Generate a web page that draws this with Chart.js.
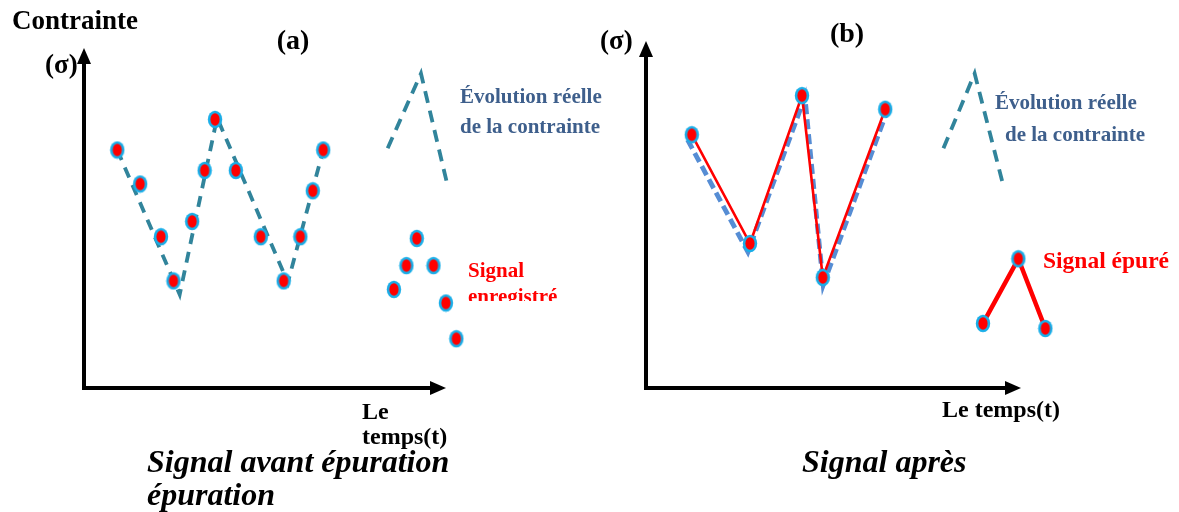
<!DOCTYPE html>
<html>
<head>
<meta charset="utf-8">
<script src="https://cdn.jsdelivr.net/npm/chart.js@4.4.1/dist/chart.umd.min.js"></script>
<style>
    html, body { margin: 0; padding: 0; background: #fff; width: 1179px; height: 512px; overflow: hidden; }
    canvas { position: absolute; top: 0; }
    #chartA { left: 0; z-index: 2; }
    #chartB { left: 590px; z-index: 1; }
</style>
</head>
<body>
<canvas id="chartA" width="640" height="512"></canvas>
<canvas id="chartB" width="589" height="512"></canvas>
<script>
// Panel (a) - recorded signal, before cleaning
const timeA = [8, 13.5, 18.5, 21.5, 26, 29, 31.5, 36.5, 42.5, 48, 52, 55, 57.5];
const stressA = [70, 60, 44.5, 31.5, 49, 64, 79, 64, 44.5, 31.5, 44.5, 58, 70];
const realTimeA = [8, 23, 32, 49, 57.5];
const realStressA = [70, 27.5, 79.5, 31, 70];
// legend samples of panel (a)
const keyLineTimeA = [73, 81, 87.5];
const keyLineStressA = [70.5, 92.5, 59];
const keyDotTimeA = [80, 77.5, 84, 74.5, 87, 89.5];
const keyDotStressA = [44, 36, 36, 29, 25, 14.5];

// Panel (b) - cleaned signal (only turning points kept)
const timeB = [11, 25, 37.5, 42.5, 57.5];
const stressB = [74.5, 42.5, 86, 32.5, 82];
const realTimeB = [10, 24.5, 38.2, 42.6, 57.7];
const realStressB = [73, 40, 85.6, 30.3, 80.6];
// legend samples of panel (b)
const keyLineTimeB = [71.5, 79, 86];
const keyLineStressB = [70.5, 92.5, 59];
const keyDotTimeB = [81, 89.5, 96];
const keyDotStressB = [19, 38, 17.5];

const TEAL = '#31849b';
const BLUE_DASH = '#568dd4';
const RED = '#ff0000';
const CYAN = '#1aaee8';
const LABEL_BLUE = '#3e5f8c';
const SERIF = '"Liberation Serif", "Times New Roman", serif';

function zip(xs, ys) {
    return xs.map(function(x, i) { return { x: x, y: ys[i] }; });
}

// red oval with cyan ring, used as point style
function makeDot() {
    const c = document.createElement('canvas');
    c.width = 16;
    c.height = 19;
    const g = c.getContext('2d');
    g.fillStyle = CYAN;
    g.beginPath();
    g.ellipse(8, 9.5, 7.2, 8.8, 0, 0, Math.PI * 2);
    g.fill();
    g.fillStyle = RED;
    g.beginPath();
    g.ellipse(8, 9.5, 4.6, 6.2, 0, 0, Math.PI * 2);
    g.fill();
    return c;
}
const dot = makeDot();

function text(ctx, s, x, y, font, color, align) {
    ctx.font = font;
    ctx.fillStyle = color || '#000';
    ctx.textAlign = align || 'left';
    ctx.textBaseline = 'middle';
    ctx.fillText(s, x, y);
}

function drawAxes(chart, yTip, xTip) {
    const ctx = chart.ctx;
    const x0 = chart.scales.x.getPixelForValue(0);
    const y0 = chart.scales.y.getPixelForValue(0);
    ctx.save();
    ctx.strokeStyle = '#000';
    ctx.fillStyle = '#000';
    ctx.lineWidth = 4;
    ctx.beginPath();
    ctx.moveTo(x0, y0 + 2);
    ctx.lineTo(x0, yTip + 12);
    ctx.moveTo(x0 - 2, y0);
    ctx.lineTo(xTip - 12, y0);
    ctx.stroke();
    ctx.beginPath();
    ctx.moveTo(x0, yTip);
    ctx.lineTo(x0 - 7, yTip + 16);
    ctx.lineTo(x0 + 7, yTip + 16);
    ctx.closePath();
    ctx.fill();
    ctx.beginPath();
    ctx.moveTo(xTip, y0);
    ctx.lineTo(xTip - 16, y0 - 7);
    ctx.lineTo(xTip - 16, y0 + 7);
    ctx.closePath();
    ctx.fill();
    ctx.restore();
}

function baseOptions(padding) {
    return {
        responsive: false,
        animation: false,
        devicePixelRatio: 1,
        layout: { padding: padding },
        scales: {
            x: { type: 'linear', min: 0, max: 100, display: false },
            y: { type: 'linear', min: 0, max: 100, display: false }
        },
        plugins: {
            legend: { display: false },
            tooltip: { enabled: false }
        }
    };
}

function dashed(data, color, width, dash) {
    return {
        data: data,
        borderColor: color,
        borderWidth: width,
        borderDash: dash,
        pointRadius: 0,
        tension: 0,
        fill: false,
        order: 2
    };
}

function dots(data, lineWidth) {
    return {
        data: data,
        showLine: lineWidth > 0,
        borderColor: RED,
        borderWidth: lineWidth,
        pointStyle: dot,
        pointRadius: 8,
        tension: 0,
        fill: false,
        order: 1
    };
}

const decorA = {
    id: 'decorA',
    beforeDatasetsDraw: function(chart) {
        drawAxes(chart, 48, 446);
    },
    afterDraw: function(chart) {
        const ctx = chart.ctx;
        ctx.save();
        text(ctx, 'Contrainte', 12, 22, 'bold 27px ' + SERIF);
        text(ctx, '(σ)', 45, 66, 'bold 27px ' + SERIF);
        text(ctx, '(a)', 293, 42, 'bold 28px ' + SERIF, '#000', 'center');
        text(ctx, 'Évolution réelle', 460, 98, 'bold 21px ' + SERIF, LABEL_BLUE);
        text(ctx, 'de la contrainte', 460, 128, 'bold 21px ' + SERIF, LABEL_BLUE);
        // the second word is cut off in the original figure
        ctx.save();
        ctx.beginPath();
        ctx.rect(440, 250, 150, 51);
        ctx.clip();
        text(ctx, 'Signal', 468, 272, 'bold 21px ' + SERIF, RED);
        text(ctx, 'enregistré', 468, 298, 'bold 21px ' + SERIF, RED);
        ctx.restore();
        text(ctx, 'Le', 362, 413, 'bold 24px ' + SERIF);
        text(ctx, 'temps(t)', 362, 438, 'bold 24px ' + SERIF);
        text(ctx, 'Signal avant épuration', 147, 464, 'italic bold 32px ' + SERIF);
        text(ctx, 'épuration', 147, 497, 'italic bold 32px ' + SERIF);
        ctx.restore();
    }
};

const decorB = {
    id: 'decorB',
    beforeDatasetsDraw: function(chart) {
        drawAxes(chart, 41, 431);
    },
    afterDraw: function(chart) {
        const ctx = chart.ctx;
        const ox = -590;
        ctx.save();
        text(ctx, '(σ)', 600 + ox, 42, 'bold 27px ' + SERIF);
        text(ctx, '(b)', 847 + ox, 35, 'bold 28px ' + SERIF, '#000', 'center');
        text(ctx, 'Évolution réelle', 995 + ox, 104, 'bold 21px ' + SERIF, LABEL_BLUE);
        text(ctx, 'de la contrainte', 1005 + ox, 136, 'bold 21px ' + SERIF, LABEL_BLUE);
        text(ctx, 'Signal épuré', 1043 + ox, 262, 'bold 23.5px ' + SERIF, RED);
        text(ctx, 'Le temps(t)', 942 + ox, 411, 'bold 24px ' + SERIF);
        text(ctx, 'Signal après', 802 + ox, 464, 'italic bold 32px ' + SERIF);
        ctx.restore();
    }
};

new Chart(document.getElementById('chartA'), {
    type: 'line',
    data: {
        datasets: [
            dots(zip(timeA, stressA), 0),
            dots(zip(keyDotTimeA, keyDotStressA), 0),
            dashed(zip(realTimeA, realStressA), TEAL, 3.8, [11, 8]),
            dashed(zip(keyLineTimeA, keyLineStressA), TEAL, 3.8, [12, 8])
        ]
    },
    options: baseOptions({ left: 84, top: 48, right: 140, bottom: 124 }),
    plugins: [decorA]
});

new Chart(document.getElementById('chartB'), {
    type: 'line',
    data: {
        datasets: [
            dots(zip(timeB, stressB), 2.6),
            dots(zip(keyDotTimeB, keyDotStressB), 4.5),
            dashed(zip(realTimeB, realStressB), BLUE_DASH, 4.8, [10, 5]),
            dashed(zip(keyLineTimeB, keyLineStressB), TEAL, 3.8, [12, 8])
        ]
    },
    options: baseOptions({ left: 56, top: 48, right: 117, bottom: 124 }),
    plugins: [decorB]
});
</script>
</body>
</html>
